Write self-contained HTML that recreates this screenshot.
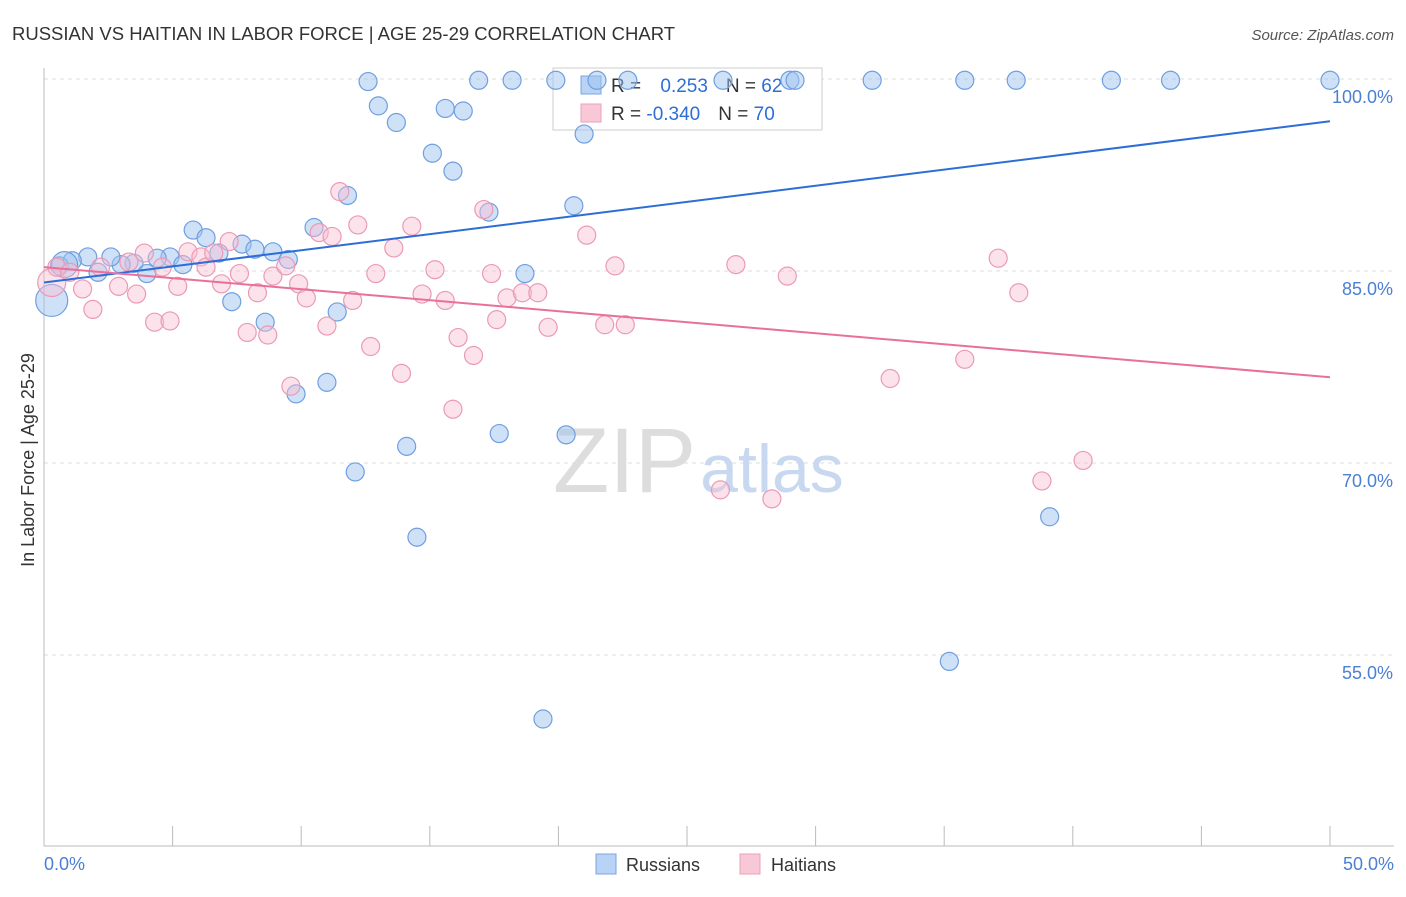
<!DOCTYPE html>
<html><head><meta charset="utf-8"><style>
body{margin:0;background:#fff;font-family:"Liberation Sans",sans-serif}
svg text{font-family:"Liberation Sans",sans-serif}
</style></head><body>
<svg width="1406" height="892">
<text x="12" y="40" font-size="18.5" fill="#333">RUSSIAN VS HAITIAN IN LABOR FORCE | AGE 25-29 CORRELATION CHART</text>
<text x="1394" y="40" font-size="15" fill="#555" text-anchor="end" font-style="italic">Source: ZipAtlas.com</text>
<g id="grid"></g>
<line x1="44" y1="68" x2="44" y2="846" stroke="#bbb"/>
<line x1="44" y1="846" x2="1394" y2="846" stroke="#bbb"/>
<text x="34" y="460" font-size="18" fill="#333" text-anchor="middle" transform="rotate(-90 34 460)">In Labor Force | Age 25-29</text>
<text x="44" y="870" font-size="18" fill="#4a7fd4">0.0%</text>
<text x="1394" y="870" font-size="18" fill="#4a7fd4" text-anchor="end">50.0%</text>
<text x="553" y="492" font-size="92" fill="#ddd" font-family="Liberation Serif">ZIP<tspan fill="#c8d8f0" font-family="Liberation Sans" font-size="68" dx="4">atlas</tspan></text>
<g>
<rect x="553" y="68" width="269" height="62" fill="#fff" stroke="#ccc"/>
<rect x="581" y="76" width="20" height="18" fill="#b8d3f5" stroke="#7aa6e0"/>
<rect x="581" y="104" width="20" height="18" fill="#f9c8d7" stroke="#eba0b8"/>
<text x="611" y="92" font-size="19" fill="#333">R = <tspan fill="#2d6ed6" dx="14">0.253</tspan><tspan fill="#333" dx="18">N = </tspan><tspan fill="#2d6ed6">62</tspan></text>
<text x="611" y="120" font-size="19" fill="#333">R = <tspan fill="#2d6ed6">-0.340</tspan><tspan fill="#333" dx="18">N = </tspan><tspan fill="#2d6ed6">70</tspan></text>
</g>
<g id="pts"></g>
<g>
<rect x="596" y="854" width="20" height="20" fill="#b8d3f5" stroke="#7aa6e0"/>
<text x="626" y="871" font-size="18" fill="#333">Russians</text>
<rect x="740" y="854" width="20" height="20" fill="#f9c8d7" stroke="#eba0b8"/>
<text x="771" y="871" font-size="18" fill="#333">Haitians</text>
</g>
</svg>
<script>
const yTicks=[100,85,70,55];
const xTicks=[0,5,10,15,20,25,30,35,40,45,50];
const blueX=[12.6,16.9,18.2,19.9,21.5,22.7,26.4,29.0,29.2,32.2,35.8,37.8,41.5,43.8,50.0,13.0,13.7,15.6,16.3,15.1,15.9,21.0,11.8,17.3,20.6,10.5,5.8,6.3,7.7,8.2,8.9,9.5,6.8,4.9,4.4,5.4,3.5,3.0,2.6,1.7,1.1,0.6,2.1,4.0,18.7,7.3,8.6,11.4,11.0,9.8,14.1,17.7,20.3,12.1,14.5,39.1,35.2,19.4,0.3,0.8];
const blueY=[99.8,99.9,99.9,99.9,99.9,99.9,99.9,99.9,99.9,99.9,99.9,99.9,99.9,99.9,99.9,97.9,96.6,97.7,97.5,94.2,92.8,95.7,90.9,89.6,90.1,88.4,88.2,87.6,87.1,86.7,86.5,85.9,86.4,86.1,86.0,85.5,85.6,85.5,86.1,86.1,85.8,85.4,84.9,84.8,84.8,82.6,81.0,81.8,76.3,75.4,71.3,72.3,72.2,69.3,64.2,65.8,54.5,50.0,82.7,85.5];
const blueR=[9,9,9,9,9,9,9,9,9,9,9,9,9,9,9,9,9,9,9,9,9,9,9,9,9,9,9,9,9,9,9,9,9,9,9,9,9,9,9,9,9,9,9,9,9,9,9,9,9,9,9,9,9,9,9,9,9,9,16,13];
const pinkX=[0.3,0.5,1.0,1.5,1.9,2.2,2.9,3.3,3.6,3.9,4.3,4.6,4.9,5.2,5.6,6.1,6.3,6.6,6.9,7.2,7.6,7.9,8.3,8.7,8.9,9.4,9.9,9.6,10.2,10.7,11.2,11.0,11.5,12.0,12.2,12.7,12.9,13.6,13.9,14.3,14.7,15.2,15.6,15.9,16.1,16.7,17.1,17.4,17.6,18.0,18.6,19.2,19.6,21.1,21.8,22.2,22.6,26.3,26.9,28.3,28.9,32.9,35.8,37.1,37.9,38.8,40.4];
const pinkY=[84.1,85.3,84.9,83.6,82.0,85.3,83.8,85.7,83.2,86.4,81.0,85.3,81.1,83.8,86.5,86.1,85.3,86.4,84.0,87.3,84.8,80.2,83.3,80.0,84.6,85.4,84.0,76.0,82.9,88.0,87.7,80.7,91.2,82.7,88.6,79.1,84.8,86.8,77.0,88.5,83.2,85.1,82.7,74.2,79.8,78.4,89.8,84.8,81.2,82.9,83.3,83.3,80.6,87.8,80.8,85.4,80.8,67.9,85.5,67.2,84.6,76.6,78.1,86.0,83.3,68.6,70.2];
const pinkR=pinkX.map((v,i)=>i===0?14:9);
const sx=v=>44+v*25.72, sy=v=>79+(100-v)*12.8;
const NS="http://www.w3.org/2000/svg";
const grid=document.getElementById('grid');
yTicks.forEach(t=>{
 const l=document.createElementNS(NS,'line');
 l.setAttribute('x1',44);l.setAttribute('x2',1394);l.setAttribute('y1',sy(t));l.setAttribute('y2',sy(t));
 l.setAttribute('stroke','#ddd');l.setAttribute('stroke-dasharray','4 4');
 
 
 grid.appendChild(l);
 const tx=document.createElementNS(NS,'text');
 tx.setAttribute('x',1393);tx.setAttribute('y',sy(t)+24);tx.setAttribute('text-anchor','end');
 tx.setAttribute('font-size','18');tx.setAttribute('fill','#4a7fd4');tx.textContent=t.toFixed(1)+'%';
 
 
 grid.appendChild(tx);
});
xTicks.forEach(t=>{
 const l=document.createElementNS(NS,'line');
 l.setAttribute('x1',sx(t));l.setAttribute('x2',sx(t));l.setAttribute('y1',826);l.setAttribute('y2',846);
 l.setAttribute('stroke','#bbb');
 
 
 grid.appendChild(l);
});
const g=document.getElementById('pts');
function dots(X,Y,R,fill,stroke,name){
 X.forEach((x,i)=>{
  const c=document.createElementNS(NS,'circle');
  c.setAttribute('cx',sx(x));c.setAttribute('cy',sy(Y[i]));c.setAttribute('r',R[i]);
  c.setAttribute('fill',fill);c.setAttribute('stroke',stroke);c.setAttribute('stroke-width','1.2');
  
  
  g.appendChild(c);
 });
}
dots(blueX,blueY,blueR,'rgba(160,196,240,0.5)','#6f9fe0','russian-point');
dots(pinkX,pinkY,pinkR,'rgba(248,190,210,0.45)','#eb9ab5','haitian-point');
function line(x1,y1,x2,y2,col,name){
 const l=document.createElementNS(NS,'line');
 l.setAttribute('x1',sx(x1));l.setAttribute('y1',sy(y1));l.setAttribute('x2',sx(x2));l.setAttribute('y2',sy(y2));
 l.setAttribute('stroke',col);l.setAttribute('stroke-width','2');
 
 
 g.appendChild(l);
}
line(0,84.1,50,96.7,'#2d6ed6','russian-trend-line');
line(0,85.3,50,76.7,'#e8709a','haitian-trend-line');
</script>
</body></html>
